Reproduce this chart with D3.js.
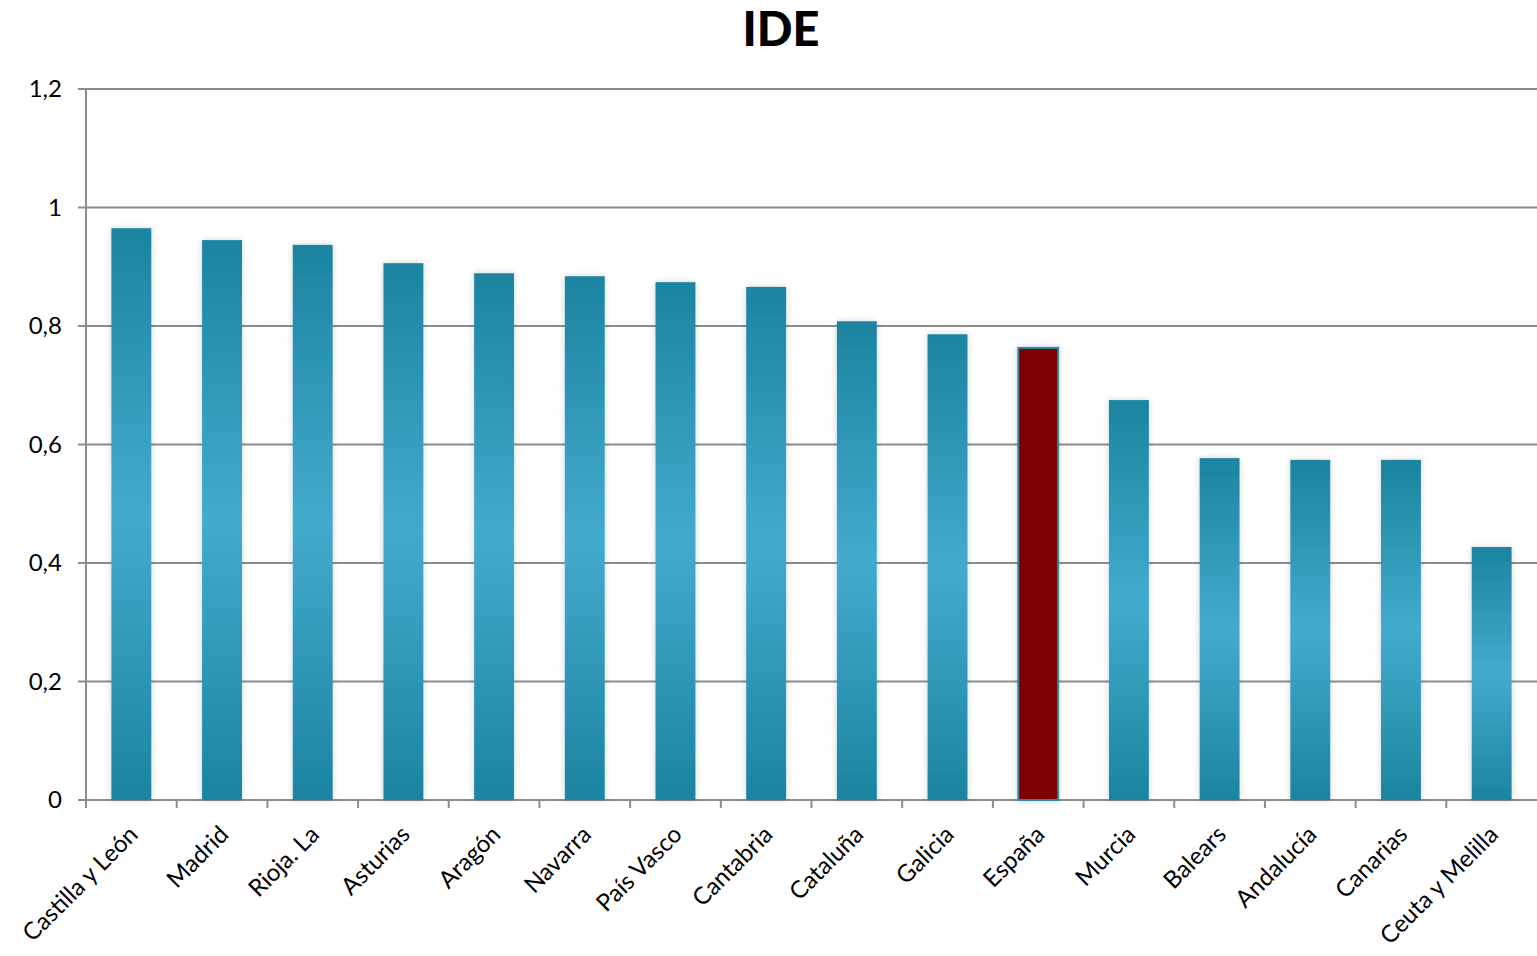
<!DOCTYPE html>
<html><head><meta charset="utf-8">
<script src="https://cdn.jsdelivr.net/npm/d3@7"></script>
<style>body{margin:0;background:#fff}svg{display:block}</style>
</head><body>
<script>
const categories = ["Castilla y León","Madrid","Rioja. La","Asturias","Aragón","Navarra","País Vasco","Cantabria","Cataluña","Galicia","España","Murcia","Balears","Andalucía","Canarias","Ceuta y Melilla"];
const values = [0.965,0.945,0.937,0.906,0.889,0.884,0.874,0.866,0.808,0.786,0.763,0.675,0.577,0.574,0.574,0.427];
const highlight = ["España"];
const yTicks = [0,0.2,0.4,0.6,0.8,1,1.2];
const yTickLabels = ["0","0,2","0,4","0,6","0,8","1","1,2"];
const title = "IDE";

const W = 1537, H = 956;
const m = {left:86, right:0, top:89, bottom:156};
const svg = d3.select("body").append("svg").attr("width",W).attr("height",H);
const font = "Lato, 'Open Sans', sans-serif";

const defs = svg.append("defs");
const g1 = defs.append("linearGradient").attr("id","barGrad").attr("x1",0).attr("y1",0).attr("x2",0).attr("y2",1);
g1.append("stop").attr("offset","0%").attr("stop-color","#1b84a0");
g1.append("stop").attr("offset","50%").attr("stop-color","#43abcd");
g1.append("stop").attr("offset","100%").attr("stop-color","#1b84a0");
const f = defs.append("filter").attr("id","shadow").attr("x","-30%").attr("y","-10%").attr("width","160%").attr("height","120%");
f.append("feDropShadow").attr("dx",0).attr("dy",0).attr("stdDeviation",3).attr("flood-color","#000").attr("flood-opacity",0.18);

const x = d3.scaleBand().domain(categories).range([m.left, W-m.right]).paddingInner(0.56).paddingOuter(0.28);
const xb = d3.scaleBand().domain(categories).range([m.left, W-m.right]);
const y = d3.scaleLinear().domain([0,1.2]).range([H-m.bottom, m.top]);

// gridlines
svg.append("g").selectAll("line").data(yTicks).join("line")
  .attr("x1",m.left-8).attr("x2",W-m.right).attr("y1",d=>y(d)).attr("y2",d=>y(d))
  .attr("stroke","#8c8c8c").attr("stroke-width",2);

// y axis line
svg.append("line").attr("x1",m.left).attr("x2",m.left).attr("y1",y(1.2)).attr("y2",y(0)+8)
  .attr("stroke","#8c8c8c").attr("stroke-width",2);

// y labels
svg.append("g").selectAll("text").data(yTicks).join("text")
  .attr("x",m.left-24).attr("y",d=>y(d)).attr("dy","0.35em").attr("text-anchor","end")
  .attr("font-family",font).attr("font-size",24).attr("fill","#000")
  .text((d,i)=>yTickLabels[i]);

// x ticks at category boundaries
const bounds = categories.map(c=>xb(c));
svg.append("g").selectAll("line").data(bounds).join("line")
  .attr("x1",d=>d).attr("x2",d=>d).attr("y1",y(0)).attr("y2",y(0)+8)
  .attr("stroke","#8c8c8c").attr("stroke-width",2);

// bars
svg.append("g").selectAll("rect").data(categories).join("rect")
  .attr("x",c=>x(c)).attr("width",x.bandwidth())
  .attr("y",(c,i)=>y(values[i])).attr("height",(c,i)=>y(0)-y(values[i]))
  .attr("fill",c=>highlight.includes(c)?"#7f0000":"url(#barGrad)")
  .attr("stroke",c=>highlight.includes(c)?"#2a8ba6":"none").attr("stroke-width",2)
  .attr("filter","url(#shadow)");

// x labels
svg.append("g").selectAll("text").data(categories).join("text")
  .attr("transform",c=>`translate(${xb(c)+xb.bandwidth()/2+8},${y(0)+36}) rotate(-45)`)
  .attr("text-anchor","end").attr("font-family",font).attr("font-size",24).attr("fill","#000")
  .text(c=>c);

// title
svg.append("text").attr("x",781).attr("y",46).attr("text-anchor","middle")
  .attr("font-family",font).attr("font-weight","900").attr("font-size",47).attr("fill","#000").text(title);
</script>
</body></html>
